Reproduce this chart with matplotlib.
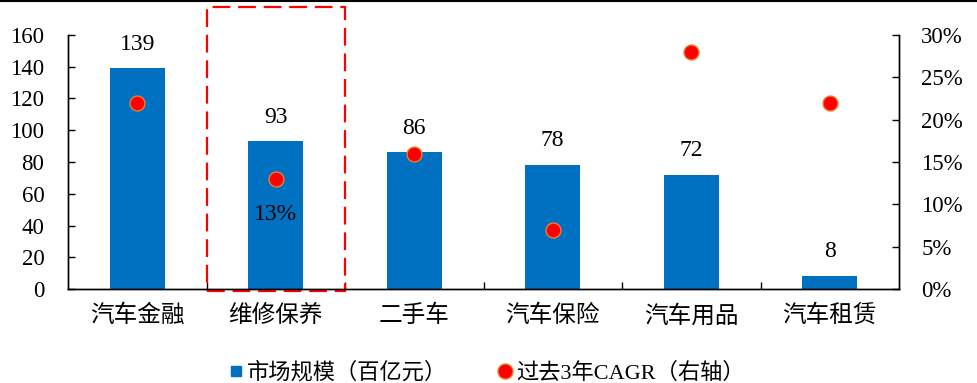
import matplotlib
matplotlib.use("Agg")
import matplotlib.pyplot as plt
from matplotlib.patches import Rectangle
from matplotlib.lines import Line2D
import numpy as np

categories = ["汽车金融", "维修保养", "二手车", "汽车保险", "汽车用品", "汽车租赁"]
market_size = [139, 93, 86, 78, 72, 8]
cagr = [0.22, 0.13, 0.16, 0.07, 0.28, 0.22]
left_ticks = [0, 20, 40, 60, 80, 100, 120, 140, 160]
right_ticks = [0, 0.05, 0.10, 0.15, 0.20, 0.25, 0.30]
legend_labels = ["市场规模（百亿元）", "过去3年CAGR（右轴）"]
highlight_label = "13%"

FAM = ["Liberation Serif", "Noto Sans CJK SC"]
plt.rcParams['font.family'] = FAM

fig = plt.figure(figsize=(9.77, 3.83), dpi=100)
ax = fig.add_axes([68/977, 1-289/383, (899-68)/977, (289-35)/383])
ax2 = ax.twinx()

x = np.arange(len(categories))
bar_color = "#0070C0"
ax.bar(x, market_size, width=0.4, color=bar_color, zorder=2)
for xi, v in zip(x, market_size):
    ax.annotate(str(v), (xi, v), xytext=(0, 17.5), textcoords="offset points",
                ha="center", va="center", fontsize=17, color="black")

ax2.scatter(x, cagr, s=115, color="#FF0000", edgecolors="#ED7D31", linewidths=1.0, zorder=3)
ax2.annotate(highlight_label, (x[1], cagr[1]), xytext=(0, -25.5), textcoords="offset points",
             ha="center", va="center", fontsize=17, color="black")

ax.set_xlim(-0.5, 5.5)
ax.set_ylim(0, 160)
ax2.set_ylim(0, 0.30)
ax.set_yticks(left_ticks)
ax.set_yticklabels([str(t) for t in left_ticks])
ax2.set_yticks(right_ticks)
ax2.set_yticklabels([f"{int(round(t*100))}%" for t in right_ticks])

ax.set_xticks(x)
ax.set_xticklabels(categories, fontsize=17, family=["Noto Sans CJK SC"])
ax.set_xticks(np.arange(0.5, 5.5, 1.0), minor=True)
ax.tick_params(axis="x", which="major", length=0, pad=11)
ax.tick_params(axis="x", which="minor", direction="in", length=5, width=1)
ax.tick_params(axis="y", direction="in", length=5, width=1, labelsize=16.5, pad=17)
ax2.tick_params(axis="y", direction="in", length=5, width=1, labelsize=16.5, pad=16)

for a in (ax, ax2):
    a.spines["top"].set_visible(False)
    for s in ("left", "right", "bottom"):
        a.spines[s].set_linewidth(1.0)
        a.spines[s].set_color("black")

rect = Rectangle((0.5, -1), 1.0, 178.5, fill=False, edgecolor="#FF0000",
                 linestyle=(0, (8, 3.5)), linewidth=1.6, clip_on=False, zorder=4)
ax.add_patch(rect)

fig.add_artist(Line2D([0, 1], [0.998, 0.998], color="black", linewidth=1.5,
                      transform=fig.transFigure))

handles = [
    Line2D([], [], marker="s", linestyle="none", markersize=7.4, color=bar_color),
    Line2D([], [], marker="o", linestyle="none", markersize=10.8,
           markerfacecolor="#FF0000", markeredgecolor="#ED7D31"),
]
fig.legend(handles, legend_labels, loc="center", bbox_to_anchor=(0.497, 0.027),
           ncol=2, frameon=False, handlelength=0.8, handletextpad=0.1,
           columnspacing=2.2, prop={"family": ["Liberation Serif", "Noto Sans CJK SC"], "size": 16})

fig.savefig("out.png", dpi=100)
